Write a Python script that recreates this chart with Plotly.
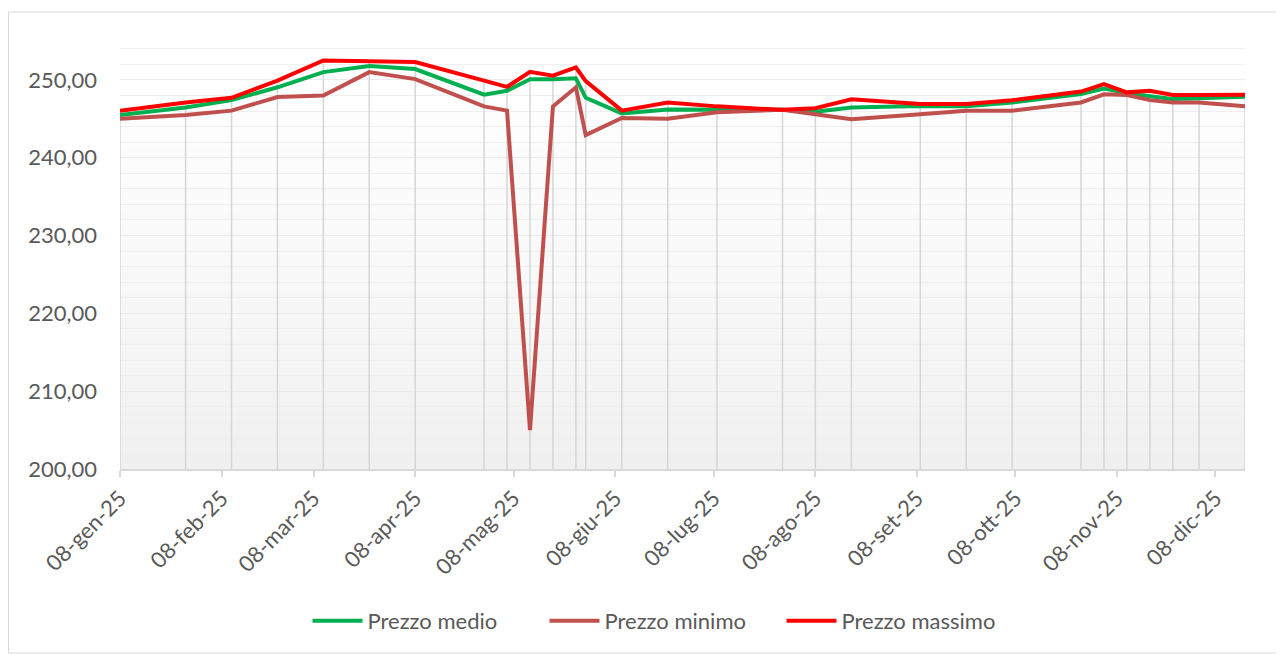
import plotly.graph_objects as go

dates = ["2025-01-08", "2025-01-28", "2025-02-11", "2025-02-25", "2025-03-11", "2025-03-25",
         "2025-04-08", "2025-04-29", "2025-05-06", "2025-05-13", "2025-05-20", "2025-05-27",
         "2025-05-30", "2025-06-10", "2025-06-24", "2025-07-09", "2025-07-29", "2025-08-08",
         "2025-08-19", "2025-09-09", "2025-09-23", "2025-10-07", "2025-10-28", "2025-11-04",
         "2025-11-11", "2025-11-18", "2025-11-25", "2025-12-03", "2025-12-17"]

prezzo_medio = [245.5, 246.45, 247.4, 249.05, 251.0, 251.8, 251.4, 248.1, 248.6, 250.1,
                250.1, 250.2, 247.7, 245.7, 246.2, 246.15, 246.15, 245.9, 246.45, 246.65,
                246.6, 247.1, 248.2, 248.9, 248.3, 247.9, 247.55, 247.65, 247.85]
prezzo_minimo = [245.0, 245.5, 246.05, 247.8, 248.0, 251.0, 250.1, 246.6, 246.05, 205.0,
                 246.6, 249.05, 242.9, 245.1, 245.0, 245.85, 246.15, 245.6, 244.95, 245.6,
                 246.05, 246.05, 247.1, 248.15, 248.05, 247.4, 247.1, 247.1, 246.6]
prezzo_massimo = [246.05, 247.1, 247.7, 249.9, 252.5, 252.4, 252.3, 249.9, 249.1, 251.05,
                  250.55, 251.6, 249.85, 246.05, 247.1, 246.6, 246.15, 246.35, 247.5, 246.9,
                  246.9, 247.4, 248.5, 249.45, 248.4, 248.6, 248.05, 248.05, 248.1]

tick_dates = ["2025-01-08", "2025-02-08", "2025-03-08", "2025-04-08", "2025-05-08", "2025-06-08",
              "2025-07-08", "2025-08-08", "2025-09-08", "2025-10-08", "2025-11-08", "2025-12-08"]
tick_labels = ["08-gen-25", "08-feb-25", "08-mar-25", "08-apr-25", "08-mag-25", "08-giu-25",
               "08-lug-25", "08-ago-25", "08-set-25", "08-ott-25", "08-nov-25", "08-dic-25"]

Y_MIN, Y_MAX = 200, 255
FONT = "Lato"
TXT = "#595959"
FS = 22

fig = go.Figure()

# drop lines (from highest series value down to the axis)
dx, dy = [], []
for d, a, b, c in zip(dates, prezzo_medio, prezzo_minimo, prezzo_massimo):
    dx += [d, d, None]
    dy += [max(a, b, c), Y_MIN, None]
fig.add_trace(go.Scatter(x=dx, y=dy, mode="lines", line=dict(color="#d6d6d6", width=1.5),
                         hoverinfo="skip", showlegend=False))

fig.add_trace(go.Scatter(x=dates, y=prezzo_medio, mode="lines", name="Prezzo medio",
                         line=dict(color="#00B050", width=4)))
fig.add_trace(go.Scatter(x=dates, y=prezzo_minimo, mode="lines", name="Prezzo minimo",
                         line=dict(color="#C0504D", width=4)))
fig.add_trace(go.Scatter(x=dates, y=prezzo_massimo, mode="lines", name="Prezzo massimo",
                         line=dict(color="#FF0000", width=4)))

# page body has an 8px margin: figure sits at (8, 8) in the window
W, H = 1276, 647
L, T = 112, 33
pw, ph = 1125, 428
R = W - L - pw
B = H - T - ph

# gradient background for plot area
shapes = []
n = 60
for i in range(n):
    t0 = i / n
    t1 = (i + 1) / n
    tm = (t0 + t1) / 2  # 0 bottom, 1 top
    g = 1 - tm
    v = int(round(255 - 15 * (g ** 1.3)))
    shapes.append(dict(type="rect", xref="paper", yref="paper", x0=0, x1=1, y0=t0, y1=t1 + 0.002,
                       fillcolor=f"rgb({v},{v},{v})", line=dict(width=0), layer="below"))

# outer chart border (window coords 8..1282 x 12..653)
shapes.append(dict(type="rect", xref="paper", yref="paper",
                   x0=(0.5 - L) / pw, x1=(1274 - L) / pw,
                   y0=-(645 - (H - B)) / ph, y1=(H - B - 4) / ph,
                   line=dict(color="#d9d9d9", width=1), fillcolor="rgba(0,0,0,0)", layer="below"))

fig.update_layout(
    width=W, height=H,
    margin=dict(l=L, r=R, t=T, b=B),
    paper_bgcolor="white", plot_bgcolor="white",
    separators=",.",
    font=dict(family=FONT, color=TXT, size=FS),
    shapes=shapes,
    showlegend=True,
    legend=dict(orientation="h", x=(663 - 8 - L) / pw, xanchor="center",
                y=-(613 - (H - B)) / ph, yanchor="middle",
                font=dict(family=FONT, size=FS, color=TXT),
                itemwidth=50, entrywidth=172, entrywidthmode="pixels",
                tracegroupgap=0, bgcolor="rgba(0,0,0,0)"),
    xaxis=dict(type="date", range=[dates[0], dates[-1]],
               tickvals=tick_dates, ticktext=tick_labels, tickangle=-45,
               ticks="outside", ticklen=6, tickcolor="#d9d9d9", tickwidth=1.5,
               showline=True, linecolor="#d9d9d9", linewidth=1.5,
               showgrid=False, zeroline=False,
               tickfont=dict(family=FONT, size=FS, color=TXT)),
    yaxis=dict(range=[Y_MIN, Y_MAX], tick0=200, dtick=10, tickformat=".2f",
               showgrid=True, gridcolor="#ebebeb", gridwidth=1,
               minor=dict(dtick=2, tick0=200, showgrid=True, gridcolor="#efefef", gridwidth=1),
               showline=False, zeroline=False, ticks="",
               ticklabelstandoff=22,
               tickfont=dict(family=FONT, size=FS, color=TXT)),
)

fig.write_html("out.html")
